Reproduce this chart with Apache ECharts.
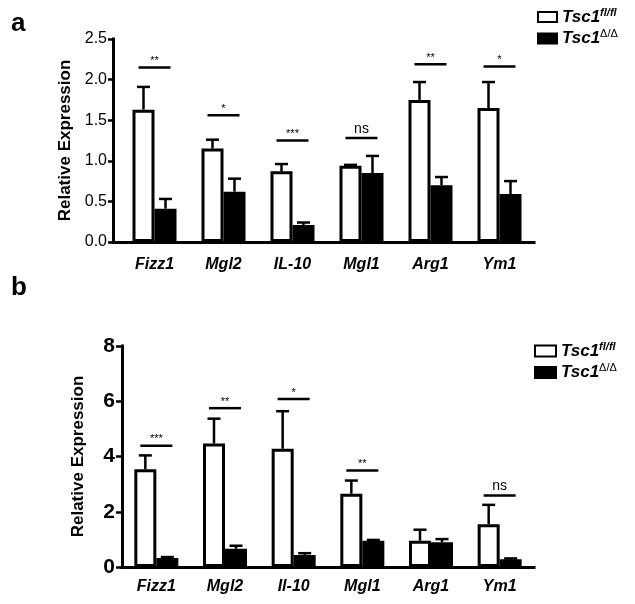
<!DOCTYPE html>
<html><head><meta charset="utf-8">
<script src="https://cdn.jsdelivr.net/npm/echarts@6/dist/echarts.min.js"></script>
<style>html,body{margin:0;padding:0;background:#fff}#c{width:635px;height:604px}</style>
</head><body><div id="c"></div>
<script>
// ---- Panel a ----
const categoriesA = ['Fizz1', 'Mgl2', 'IL-10', 'Mgl1', 'Arg1', 'Ym1'];
const flA     = [1.63, 1.15, 0.87, 0.94, 1.75, 1.65];
const flErrA  = [0.28, 0.11, 0.09, 0.01, 0.22, 0.32];
const koA     = [0.41, 0.62, 0.21, 0.85, 0.70, 0.59];
const koErrA  = [0.12, 0.16, 0.03, 0.21, 0.10, 0.16];
const sigA    = ['**', '*', '***', 'ns', '**', '*'];
const sigYA   = [2.15, 1.56, 1.25, 1.28, 2.19, 2.16];
const yMaxA = 2.5, yStepA = 0.5;

// ---- Panel b ----
const categoriesB = ['Fizz1', 'Mgl2', 'Il-10', 'Mgl1', 'Arg1', 'Ym1'];
const flB     = [3.54, 4.47, 4.28, 2.65, 0.95, 1.55];
const flErrB  = [0.50, 0.90, 1.36, 0.48, 0.40, 0.70];
const koB     = [0.33, 0.66, 0.43, 0.95, 0.90, 0.28];
const koErrB  = [0.03, 0.11, 0.07, 0.03, 0.11, 0.03];
const sigB    = ['***', '**', '*', '**', '', 'ns'];
const sigYB   = [4.39, 5.75, 6.08, 3.49, null, 2.59];
const yMaxB = 8, yStepB = 2;

const NAME_FL = 'Tsc1fl/fl';
const NAME_KO = 'Tsc1Δ/Δ';

const FONT = "'Liberation Sans', Arial, Helvetica, sans-serif";
const BW = 22; // bar width px
const AX = { lineStyle: { color: '#000', width: 3, cap: 'square' } };

function errData(fl, flErr, ko, koErr) {
  const d = [];
  fl.forEach((v, i) => { d.push([i, v, v + flErr[i], 0]); d.push([i, ko[i], ko[i] + koErr[i], 1]); });
  return d;
}
function errSeries(xi, yi, fl, flErr, ko, koErr) {
  return {
    type: 'custom', xAxisIndex: xi, yAxisIndex: yi, z: 5, clip: false, silent: true,
    encode: { x: 0, y: [1, 2] },
    data: errData(fl, flErr, ko, koErr),
    renderItem: function (params, api) {
      const i = api.value(0), m = api.value(1), hi = api.value(2), side = api.value(3);
      const p0 = api.coord([i, m]);
      const p1 = api.coord([i, hi]);
      const x = p0[0] + (side === 0 ? -BW / 2 : BW / 2);
      const st = { stroke: '#000', lineWidth: 2.5 };
      return { type: 'group', children: [
        { type: 'line', shape: { x1: x, y1: p0[1], x2: x, y2: p1[1] }, style: st },
        { type: 'line', shape: { x1: x - 6.5, y1: p1[1], x2: x + 6.5, y2: p1[1] }, style: st }
      ]};
    }
  };
}
function sigSeries(xi, yi, labels, ys) {
  const items = labels.map((s, i) => ({ i: i, y: ys[i], s: s })).filter(d => d.s);
  return {
    type: 'custom', xAxisIndex: xi, yAxisIndex: yi, z: 5, clip: false, silent: true,
    data: items.map(d => [d.i, d.y]),
    renderItem: function (params, api) {
      const it = items[params.dataIndex];
      const p = api.coord([api.value(0), api.value(1)]);
      const ns = it.s === 'ns';
      return { type: 'group', children: [
        { type: 'line', shape: { x1: p[0] - 16, y1: p[1], x2: p[0] + 16, y2: p[1] }, style: { stroke: '#000', lineWidth: 2.5 } },
        { type: 'text', style: { text: it.s, x: p[0], y: p[1] - (ns ? 2 : 1), align: 'center', verticalAlign: 'bottom',
          fontSize: ns ? 14 : 11, fontFamily: FONT, fill: '#000' } }
      ]};
    }
  };
}
function bars(xi, yi, fl, ko) {
  return [
    { name: NAME_FL, type: 'bar', xAxisIndex: xi, yAxisIndex: yi, data: fl, barWidth: BW, barGap: '0%',
      itemStyle: { color: '#fff', borderColor: '#000', borderWidth: 3 }, silent: true },
    { name: NAME_KO, type: 'bar', xAxisIndex: xi, yAxisIndex: yi, data: ko, barWidth: BW, barGap: '0%',
      itemStyle: { color: '#000', borderColor: '#000', borderWidth: 3 }, silent: true }
  ];
}
const catLabel = (m) => ({ show: true, fontSize: 16, fontWeight: 'bold', fontStyle: 'italic', fontFamily: FONT, color: '#000', margin: m, interval: 0 });
const legendRich = {
  m: { fontSize: 17, fontWeight: 'bold', fontStyle: 'italic', fontFamily: FONT, color: '#000', lineHeight: 20 },
  s: { fontSize: 11, fontWeight: 'bold', fontStyle: 'italic', fontFamily: FONT, color: '#000', verticalAlign: 'top', lineHeight: 12 },
  d: { fontSize: 11, fontFamily: FONT, color: '#000', verticalAlign: 'top', lineHeight: 12 }
};
const legendFmt = n => n === NAME_FL ? '{m|Tsc1}{s|fl/fl}' : '{m|Tsc1}{d|Δ/Δ}';

const option = {
  backgroundColor: '#fff',
  animation: false,
  title: [
    { text: 'a', left: 6, top: 6, textStyle: { fontSize: 26, fontWeight: 'bold', fontFamily: FONT, color: '#000' } },
    { text: 'b', left: 6, top: 270, textStyle: { fontSize: 26, fontWeight: 'bold', fontFamily: FONT, color: '#000' } }
  ],
  legend: [
    { data: [NAME_FL, NAME_KO], orient: 'vertical', left: 537, top: 7, padding: 0, itemWidth: 19, itemHeight: 10, itemGap: 3,
      icon: 'rect', formatter: legendFmt, textStyle: { rich: legendRich }, selectedMode: false },
    { data: [NAME_FL, NAME_KO], orient: 'vertical', left: 534, top: 341, padding: 0, itemWidth: 21, itemHeight: 11, itemGap: 3,
      icon: 'rect', formatter: legendFmt, textStyle: { rich: legendRich }, selectedMode: false }
  ],
  grid: [
    { left: 113, right: 101, top: 39, bottom: 362 },
    { left: 120, right: 101, top: 39, bottom: 362 },
    { left: 122, right: 101, top: 346, bottom: 37 }
  ],
  xAxis: [
    { gridIndex: 0, type: 'category', data: categoriesA, axisLine: AX, axisTick: { show: false }, axisLabel: { show: false } },
    { gridIndex: 1, type: 'category', data: categoriesA, axisLine: { show: false }, axisTick: { show: false }, axisLabel: catLabel(15) },
    { gridIndex: 2, type: 'category', data: categoriesB, axisLine: AX, axisTick: { show: false }, axisLabel: catLabel(12) }
  ],
  yAxis: [
    { gridIndex: 0, type: 'value', min: 0, max: yMaxA, interval: yStepA, splitLine: { show: false },
      axisLine: Object.assign({ show: true }, AX), axisTick: { show: true, length: 5, lineStyle: { color: '#000', width: 2.5 } },
      axisLabel: { fontSize: 16, fontFamily: FONT, color: '#000', margin: 6, formatter: v => v.toFixed(1) },
      name: 'Relative Expression', nameLocation: 'middle', nameGap: 33,
      nameTextStyle: { fontSize: 17, fontWeight: 'bold', fontFamily: FONT, color: '#000' } },
    { gridIndex: 1, type: 'value', min: 0, max: yMaxA, interval: yStepA, show: false },
    { gridIndex: 2, type: 'value', min: 0, max: yMaxB, interval: yStepB, splitLine: { show: false },
      axisLine: Object.assign({ show: true }, AX), axisTick: { show: true, length: 6, lineStyle: { color: '#000', width: 2.5 } },
      axisLabel: { fontSize: 21, fontWeight: 'bold', fontFamily: FONT, color: '#000', margin: 7 },
      name: 'Relative Expression', nameLocation: 'middle', nameGap: 35,
      nameTextStyle: { fontSize: 17, fontWeight: 'bold', fontFamily: FONT, color: '#000' } }
  ],
  series: [].concat(
    bars(1, 1, flA, koA),
    [errSeries(1, 1, flA, flErrA, koA, koErrA), sigSeries(1, 1, sigA, sigYA)],
    bars(2, 2, flB, koB),
    [errSeries(2, 2, flB, flErrB, koB, koErrB), sigSeries(2, 2, sigB, sigYB)]
  )
};
const chart = echarts.init(document.getElementById('c'), null, { renderer: 'canvas' });
chart.setOption(option);
</script>
</body></html>
